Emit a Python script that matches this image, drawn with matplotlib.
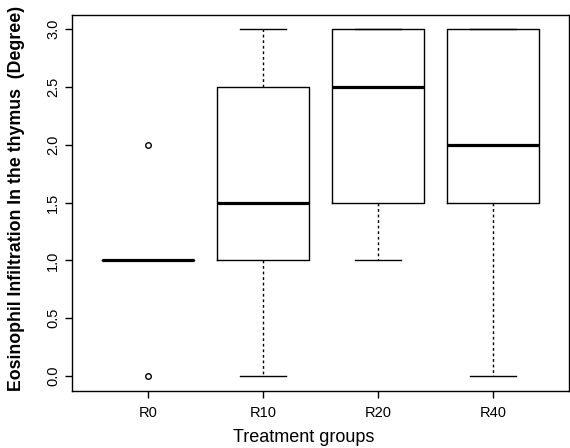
import matplotlib
matplotlib.use("Agg")
import matplotlib.pyplot as plt

plt.rcParams['font.family'] = ['Liberation Sans', 'DejaVu Sans']

# Box statistics
groups = ["R0", "R10", "R20", "R40"]
low_whisker = [1.0, 0.0, 1.0, 0.0]
q1 = [1.0, 1.0, 1.5, 1.5]
medians = [1.0, 1.5, 2.5, 2.0]
q3 = [1.0, 2.5, 3.0, 3.0]
high_whisker = [1.0, 3.0, 3.0, 3.0]
outliers = [[0.0, 2.0], [], [], []]

stats = []
for i, g in enumerate(groups):
    stats.append({"label": g, "whislo": low_whisker[i], "q1": q1[i], "med": medians[i],
                  "q3": q3[i], "whishi": high_whisker[i], "fliers": outliers[i]})

fig = plt.figure(figsize=(5.7, 4.48), dpi=100)
ax = fig.add_axes([0.126, 0.127, 0.872, 0.839])

ax.bxp(stats, positions=range(1, len(groups) + 1), widths=0.8,
       boxprops=dict(color="black", linewidth=1.0),
       medianprops=dict(color="black", linewidth=2.3),
       whiskerprops=dict(color="black", linewidth=1.0, linestyle=(0, (2, 2))),
       capprops=dict(color="black", linewidth=1.0),
       flierprops=dict(marker="o", markersize=4, markerfacecolor="none",
                       markeredgecolor="black", markeredgewidth=1.0),
       capwidths=0.4)

ax.set_xlim(0.34, 4.66)
ax.set_ylim(-0.13, 3.12)
ax.set_yticks([0.0, 0.5, 1.0, 1.5, 2.0, 2.5, 3.0])
ax.set_yticklabels(["0.0", "0.5", "1.0", "1.5", "2.0", "2.5", "3.0"], rotation=90, va="center")
ax.tick_params(axis="both", labelsize=10.5, length=5, width=1.0)
ax.tick_params(axis="x", pad=6)
for s in ax.spines.values():
    s.set_linewidth(1.0)

ax.set_xlabel("Treatment groups", fontsize=13)
ax.xaxis.set_label_coords(0.466, -0.101)
ax.set_ylabel("Eosinophil Infiltration In the thymus  (Degree)", fontsize=12.8,
              fontweight="bold")
ax.yaxis.set_label_coords(-0.094, 0.512)

fig.savefig("out.png", dpi=100)
